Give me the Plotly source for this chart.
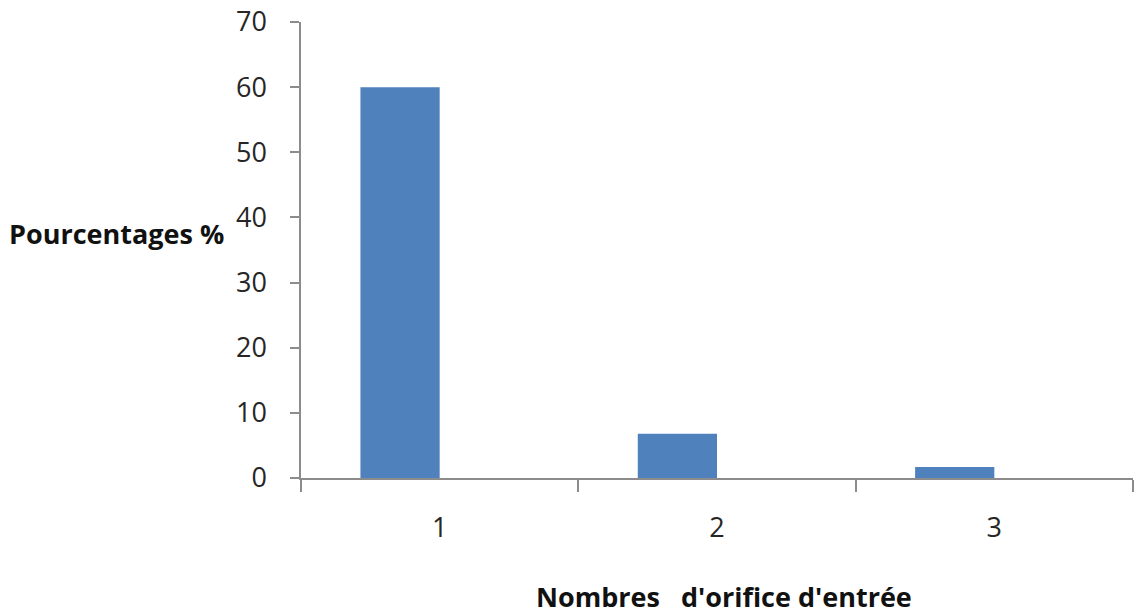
import plotly.graph_objects as go

# Data
categories = ["1", "2", "3"]
pourcentages = [60, 6.8, 1.7]
y_ticks = [0, 10, 20, 30, 40, 50, 60, 70]

W, H = 1134, 616
L, R, T, B = 301, 1, 22, 138
plot_w = W - L - R
plot_h = H - T - B

fig = go.Figure()
fig.add_trace(go.Bar(
    x=categories,
    y=pourcentages,
    width=0.2857,
    offset=-0.2857,
    marker=dict(color="#4F81BD", line=dict(width=0)),
    showlegend=False,
    hoverinfo="x+y",
))

font_main = "Open Sans, Noto Sans, Liberation Sans, sans-serif"
axis_grey = "#8c8c8c"

fig.update_layout(
    width=W, height=H,
    margin=dict(l=L, r=R, t=T, b=B, pad=0),
    paper_bgcolor="white",
    plot_bgcolor="white",
    font=dict(family=font_main, color="#262626"),
    xaxis=dict(
        type="category",
        tickson="boundaries",
        ticks="outside",
        ticklen=12,
        tickwidth=1.5,
        tickcolor=axis_grey,
        showline=True,
        linecolor=axis_grey,
        linewidth=1.5,
        showgrid=False,
        zeroline=False,
        tickfont=dict(size=27, color="#262626"),
        ticklabelstandoff=25,
        range=[-0.5, 2.5],
        automargin=False,
    ),
    yaxis=dict(
        range=[0, 70],
        tickvals=y_ticks,
        ticks="outside",
        ticklen=9,
        tickwidth=1.5,
        tickcolor=axis_grey,
        showline=True,
        linecolor=axis_grey,
        linewidth=1.5,
        showgrid=False,
        zeroline=False,
        tickfont=dict(size=27, color="#262626"),
        ticklabelstandoff=18,
        automargin=False,
    ),
    annotations=[
        dict(
            text="<b>Pourcentages %</b>",
            xref="paper", yref="paper",
            x=(226 - L) / plot_w, y=(478 - 233) / plot_h,
            xanchor="right", yanchor="middle",
            showarrow=False,
            font=dict(size=27, color="#111111", family=font_main),
        ),
        dict(
            text="<b>Nombres&nbsp;&nbsp; d'orifice d'entrée</b>",
            xref="paper", yref="paper",
            x=(724 - L) / plot_w, y=-(597 - 478) / plot_h,
            xanchor="center", yanchor="middle",
            showarrow=False,
            font=dict(size=27, color="#111111", family=font_main),
        ),
    ],
)

fig.write_html("out.html")
